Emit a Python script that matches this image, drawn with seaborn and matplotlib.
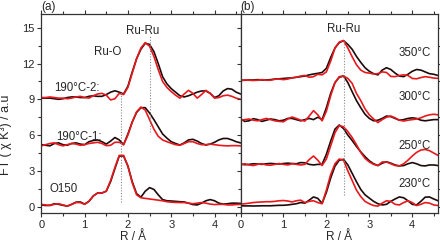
import numpy as np
import matplotlib
matplotlib.use("Agg")
import matplotlib.pyplot as plt
import seaborn as sns
from matplotlib.ticker import MultipleLocator

# R grid (Angstrom), 0.0 .. 4.6 step 0.1
r = np.round(np.arange(0, 4.61, 0.1), 2)

# panel (a)
o150_k = [0.15, 0.1, 0.12, 0.25, 0.2, 0.12, 0.05, 0.2, 0.38, 0.4, 0.22, 0.45, 0.9, 1.15, 1.15, 1.3,
          2.1, 3.2, 4.25, 4.25, 3.4, 2.1, 1.1, 0.8, 1.3, 1.6, 1.45, 1.0, 0.6, 0.5, 0.48, 0.45,
          0.42, 0.4, 0.3, 0.18, 0.15, 0.3, 0.5, 0.6, 0.5, 0.3, 0.22, 0.25, 0.3, 0.3, 0.28]
o150_r = [0.2, 0.15, 0.1, 0.2, 0.25, 0.15, 0.05, 0.2, 0.35, 0.35, 0.2, 0.45, 0.9, 1.15, 1.15, 1.3,
          2.2, 3.3, 4.3, 4.3, 3.4, 2.0, 1.0, 0.75, 0.7, 0.65, 0.6, 0.55, 0.5, 0.42, 0.38, 0.36,
          0.35, 0.35, 0.3, 0.25, 0.3, 0.35, 0.3, 0.22, 0.18, 0.2, 0.2, 0.15, 0.15, 0.18, 0.2]
c190_1_k = [5.2, 5.15, 5.1, 5.3, 5.35, 5.2, 5.15, 5.3, 5.35, 5.25, 5.2, 5.45, 5.55, 5.6, 5.45, 5.25,
            5.5, 5.8, 5.6, 5.2, 6.1, 7.1, 7.9, 8.3, 8.3, 7.85, 7.3, 6.7, 6.1, 5.75, 5.45, 5.3,
            5.17, 5.35, 5.6, 5.65, 5.5, 5.3, 5.17, 5.25, 5.4, 5.6, 5.72, 5.72, 5.6, 5.45, 5.35]
c190_1_r = [5.1, 5.2, 5.3, 5.35, 5.2, 5.1, 5.2, 5.3, 5.25, 5.15, 5.2, 5.3, 5.35, 5.4, 5.3, 5.12,
            5.15, 5.4, 5.4, 5.2, 6.0, 7.1, 7.95, 8.35, 8.1, 7.3, 6.5, 5.9, 5.6, 5.45, 5.32, 5.2,
            5.15, 5.3, 5.45, 5.45, 5.3, 5.2, 5.2, 5.25, 5.2, 5.15, 5.12, 5.1, 5.12, 5.12, 5.1]
c190_2_k = [9.1, 9.1, 9.1, 9.05, 9.0, 9.05, 9.15, 9.2, 9.2, 9.15, 9.15, 9.25, 9.3, 9.25, 9.25, 9.4,
            9.6, 9.72, 9.6, 9.45, 10.1, 11.3, 12.4, 13.2, 13.7, 13.6, 13.0, 12.0, 10.9, 10.3, 9.9, 9.6,
            9.3, 9.2, 9.3, 9.45, 9.6, 9.7, 9.7, 9.5, 9.15, 9.3, 9.7, 9.9, 9.85, 9.6, 9.45]
c190_2_r = [9.15, 9.15, 9.2, 9.15, 9.1, 9.1, 9.05, 9.1, 9.2, 9.25, 9.15, 9.1, 9.3, 9.45, 9.5, 9.35,
            8.95, 9.05, 9.5, 9.4, 10.0, 11.2, 12.4, 13.3, 13.75, 13.45, 12.6, 11.5, 10.5, 10.0, 9.65, 9.35,
            9.1, 9.45, 9.75, 9.5, 9.1, 9.4, 9.75, 9.5, 9.1, 9.15, 9.3, 9.35, 9.25, 9.1, 9.0]

# panel (b)
t230_k = [0.08, 0.07, 0.07, 0.06, 0.07, 0.08, 0.08, 0.08, 0.1, 0.12, 0.12, 0.15, 0.2, 0.25, 0.35, 0.3,
          0.55, 0.82, 0.7, 0.28, 1.2, 2.4, 3.4, 3.9, 3.97, 3.5, 2.8, 2.1, 1.45, 1.0, 0.72, 0.45,
          0.25, 0.15, 0.2, 0.45, 0.65, 0.82, 0.75, 0.5, 0.2, 0.15, 0.45, 0.8, 0.82, 0.65, 0.5]
t230_r = [0.22, 0.25, 0.3, 0.35, 0.38, 0.4, 0.42, 0.42, 0.45, 0.5, 0.52, 0.48, 0.4, 0.5, 0.55, 0.35,
          0.45, 0.5, 0.35, 0.25, 1.4, 2.7, 3.6, 4.0, 3.9, 3.0, 2.2, 1.4, 0.85, 0.45, 0.25, 0.1,
          0.05, 0.3, 0.5, 0.45, 0.2, 0.15, 0.35, 0.5, 0.35, 0.1, 0.2, 0.35, 0.3, 0.15, 0.1]
t250_k = [3.58, 3.52, 3.55, 3.6, 3.58, 3.55, 3.6, 3.63, 3.6, 3.58, 3.62, 3.65, 3.62, 3.6, 3.7, 3.68,
          3.55, 3.5, 3.55, 3.55, 4.4, 5.5, 6.5, 6.85, 6.55, 6.0, 5.55, 5.05, 4.6, 4.2, 3.85, 3.6,
          3.45, 3.65, 3.77, 3.65, 3.5, 3.42, 3.45, 3.6, 3.7, 3.6, 3.45, 3.42, 3.5, 3.5, 3.45]
t250_r = [3.5, 3.6, 3.5, 3.45, 3.55, 3.6, 3.5, 3.48, 3.55, 3.62, 3.55, 3.5, 3.6, 3.55, 3.5, 3.55,
          3.95, 4.25, 3.9, 3.45, 4.0, 5.1, 6.2, 6.8, 6.7, 6.3, 5.8, 5.2, 4.55, 4.05, 3.75, 3.55,
          3.45, 3.75, 3.75, 3.6, 3.45, 3.42, 3.6, 3.9, 4.25, 4.55, 4.75, 4.8, 4.7, 4.5, 4.3]
t300_k = [7.35, 7.15, 7.2, 7.38, 7.3, 7.15, 7.25, 7.35, 7.3, 7.2, 7.25, 7.4, 7.4, 7.3, 7.2, 7.3,
          7.4, 7.3, 7.5, 7.3, 8.3, 9.5, 10.4, 10.85, 10.95, 10.4, 9.64, 8.9, 8.3, 7.75, 7.4, 7.2,
          7.25, 7.4, 7.6, 7.55, 7.4, 7.25, 7.3, 7.4, 7.45, 7.4, 7.25, 7.2, 7.25, 7.3, 7.3]
t300_r = [7.25, 7.3, 7.35, 7.25, 7.2, 7.3, 7.4, 7.3, 7.2, 7.15, 7.12, 7.35, 7.52, 7.4, 7.25, 7.18,
          7.6, 8.05, 7.7, 7.2, 8.0, 9.3, 10.4, 10.9, 10.95, 10.75, 10.34, 9.5, 8.9, 8.2, 7.7, 7.35,
          7.05, 7.3, 7.5, 7.6, 7.45, 7.25, 7.18, 7.25, 7.3, 7.35, 7.45, 7.6, 7.7, 7.75, 7.7]
t350_k = [10.6, 10.6, 10.62, 10.62, 10.65, 10.62, 10.62, 10.65, 10.7, 10.72, 10.75, 10.78, 10.8, 10.85, 10.9, 10.95,
          11.05, 11.12, 11.18, 11.25, 11.6, 12.5, 13.3, 13.75, 13.92, 13.6, 13.19, 12.6, 12.1, 11.65, 11.35, 11.15,
          11.05, 11.45, 11.65, 11.5, 11.2, 10.95, 10.9, 11.1, 11.35, 11.5, 11.45, 11.3, 11.15, 11.1, 11.0]
t350_r = [10.55, 10.62, 10.6, 10.58, 10.6, 10.65, 10.6, 10.6, 10.68, 10.7, 10.65, 10.7, 10.8, 10.85, 10.95, 11.0,
          10.85, 10.9, 11.1, 11.05, 11.3, 12.2, 13.3, 13.8, 13.92, 13.3, 12.57, 11.9, 11.45, 11.25, 11.2, 11.12,
          11.15, 11.3, 11.25, 10.92, 10.9, 11.0, 11.05, 11.0, 10.75, 10.72, 10.82, 10.9, 10.85, 10.78, 10.76]

BLACK = "#1e0a0a"
RED = "#e8181c"

sns.set_style("ticks")
plt.rcParams["font.family"] = ["Liberation Sans", "DejaVu Sans"]

fig = plt.figure(figsize=(4.4, 2.44), dpi=100)
ax1 = fig.add_axes([0.0939, 0.1283, 0.4527, 0.8143])
ax2 = fig.add_axes([0.5466, 0.1283, 0.4489, 0.8143])

pairs_a = [(o150_k, o150_r), (c190_1_k, c190_1_r), (c190_2_k, c190_2_r)]
pairs_b = [(t230_k, t230_r), (t250_k, t250_r), (t300_k, t300_r), (t350_k, t350_r)]

for ax, pairs in [(ax1, pairs_a), (ax2, pairs_b)]:
    for k, rr in pairs:
        sns.lineplot(x=r, y=k, ax=ax, color=BLACK, lw=1.2)
        sns.lineplot(x=r, y=rr, ax=ax, color=RED, lw=1.2)

# dotted guide lines
ax1.vlines(1.84, 0.4, 9.6, colors="#888888", linestyles=(0, (1, 1.5)), lw=0.8)
ax1.vlines(2.51, 6.3, 14.3, colors="#888888", linestyles=(0, (1, 1.5)), lw=0.8)
ax2.vlines(2.41, 1.0, 14.0, colors="#888888", linestyles=(0, (1, 1.5)), lw=0.8)

fs = 8.3
ax1.text(2.35, 14.75, "Ru-Ru", ha="center", va="center", fontsize=fs)
ax1.text(1.54, 13.0, "Ru-O", ha="center", va="center", fontsize=fs)
ax1.text(0.29, 9.97, "190°C-2:", ha="left", va="center", fontsize=fs)
ax1.text(0.34, 5.87, "190°C-1:", ha="left", va="center", fontsize=fs)
ax1.text(0.2, 1.46, "O150", ha="left", va="center", fontsize=fs)
ax2.text(2.39, 14.87, "Ru-Ru", ha="center", va="center", fontsize=fs)
ax2.text(4.44, 12.9, "350°C", ha="right", va="center", fontsize=fs)
ax2.text(4.44, 9.22, "300°C", ha="right", va="center", fontsize=fs)
ax2.text(4.44, 5.11, "250°C", ha="right", va="center", fontsize=fs)
ax2.text(4.44, 1.88, "230°C", ha="right", va="center", fontsize=fs)

for ax, lab in [(ax1, "(a)"), (ax2, "(b)")]:
    ax.set_xlim(0, 4.6)
    ax.set_ylim(-0.5, 16.15)
    ax.xaxis.set_major_locator(MultipleLocator(1))
    ax.xaxis.set_minor_locator(MultipleLocator(0.5))
    ax.yaxis.set_major_locator(MultipleLocator(3))
    ax.yaxis.set_minor_locator(MultipleLocator(1.5))
    ax.tick_params(which="both", direction="out", top=True, right=True,
                   labelsize=8, color="#333333", width=0.8, pad=2)
    ax.tick_params(which="major", length=3)
    ax.tick_params(which="minor", length=2)
    for s in ax.spines.values():
        s.set_color("#333333")
        s.set_linewidth(0.9)
    ax.set_xlabel("R / Å", fontsize=8.5)
    ax.xaxis.set_label_coords(0.5, -0.09)
    ax.text(0.0, 1.005, lab, transform=ax.transAxes, ha="left", va="bottom", fontsize=8.5)

ax1.xaxis.set_label_coords(0.46, -0.09)
ax1.set_ylabel("FT ( χ K³) / a.u", fontsize=9)
ax1.yaxis.set_label_coords(-0.145, 0.39)
ax2.set_ylabel("")
ax2.tick_params(labelleft=False)

fig.savefig("out.png", dpi=100)
